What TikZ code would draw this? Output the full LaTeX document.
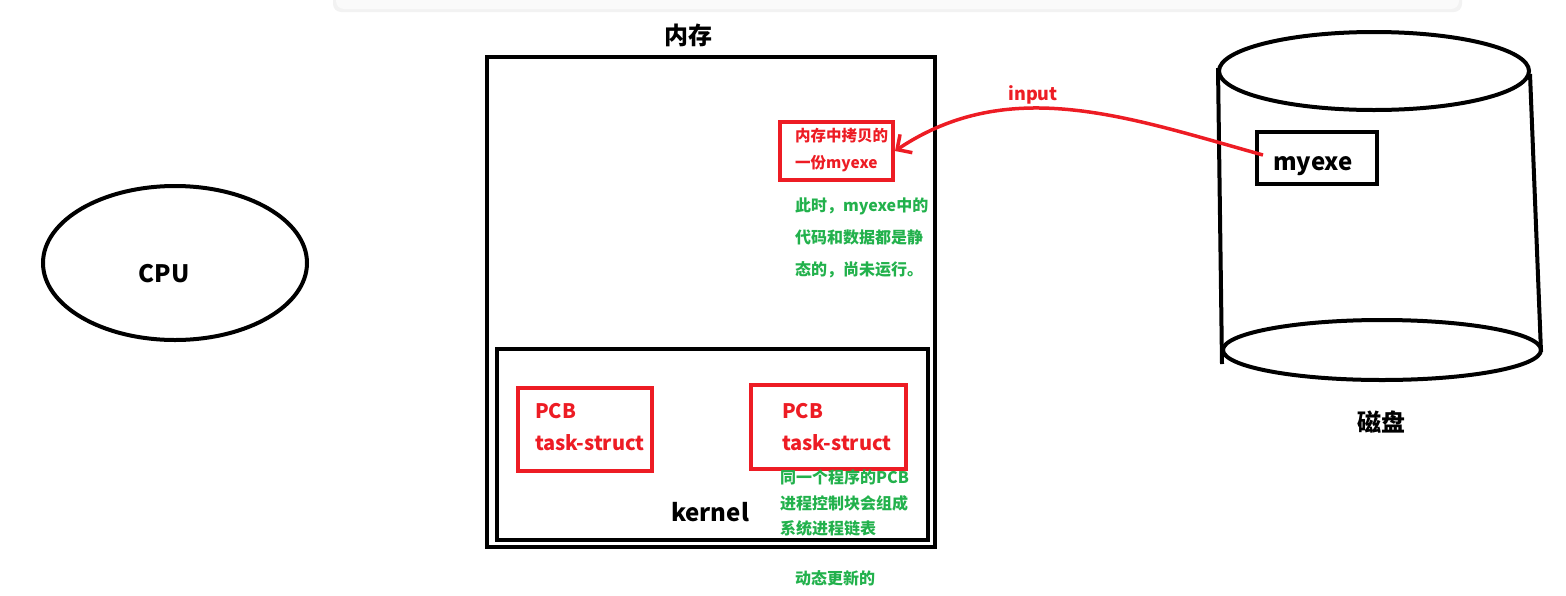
\documentclass[tikz,border=0pt]{standalone}
\usepackage{fontspec}
\setmainfont{Noto Sans CJK SC}
\usetikzlibrary{arrows.meta}
\definecolor{pred}{HTML}{ED1C24}
\definecolor{pgreen}{HTML}{22B14C}
\tikzset{
  thick box/.style={draw=black, line width=4pt, rectangle, inner sep=0pt},
  red box/.style={draw=pred, line width=4pt, rectangle, inner sep=0pt},
  txt/.style={inner sep=0pt, font=\bfseries},
  redtxt/.style={txt, text=pred, align=left, anchor=west},
  greentxt/.style={txt, text=pgreen, align=left, anchor=west},
}
\begin{document}
\begin{tikzpicture}[x=1pt, y=-1pt]
\useasboundingbox (0,0) rectangle (1566,595);
% top toolbar shadow
\fill[gray!10, rounded corners=8pt] (333,-20) rectangle (1462,12);
\fill[gray!4, rounded corners=8pt] (336,-20) rectangle (1459,9);
% CPU
\draw[line width=4pt] (175,263) ellipse [x radius=132, y radius=77];
\node[txt, font=\bfseries\fontsize{24}{24}\selectfont] (cpu) at (164,274) {CPU};
% memory
\node[txt, font=\bfseries\fontsize{24}{24}\selectfont] (memlabel) at (688,35) {内存};
\node[thick box, minimum width=448pt, minimum height=490pt] (mem) at (711,302) {};
\node[thick box, minimum width=431pt, minimum height=191pt] (kernelbox) at (712.5,444.5) {};
\node[txt, font=\bfseries\fontsize{24}{24}\selectfont] (kernel) at (710,512) {kernel};
\node[red box, minimum width=134pt, minimum height=83pt] (pcb1) at (585,429.5) {};
\node[red box, minimum width=155pt, minimum height=84pt] (pcb2) at (828.5,427) {};
\node[redtxt, font=\bfseries\fontsize{20}{32}\selectfont] (pcb1t) at (535,427) {PCB\\task-struct};
\node[redtxt, font=\bfseries\fontsize{20}{32}\selectfont] (pcb2t) at (782,427) {PCB\\task-struct};
\node[greentxt, font=\bfseries\fontsize{16}{25.5}\selectfont] (chain) at (780,503) {同一个程序的PCB\\进程控制块会组成\\系统进程链表};
\node[greentxt, font=\bfseries\fontsize{16}{16}\selectfont] (dyn) at (795,578) {动态更新的};
\node[red box, minimum width=113pt, minimum height=58pt] (copy) at (836.5,151) {};
\node[redtxt, font=\bfseries\fontsize{15.5}{27}\selectfont] (copyt) at (795,150.5) {内存中拷贝的\\一份myexe};
\node[greentxt, font=\bfseries\fontsize{16}{32}\selectfont] (static) at (795,238) {此时，myexe中的\\代码和数据都是静\\态的，尚未运行。};
% disk
\draw[line width=4pt] (1374,71) ellipse [x radius=155, y radius=39];
\draw[line width=4pt] (1382,350) ellipse [x radius=159, y radius=30];
\draw[line width=4pt] (1218,68) -- (1222,364);
\draw[line width=4pt] (1530,74) -- (1541,352);
\node[thick box, minimum width=120pt, minimum height=52pt] (exe) at (1317,158) {};
\node[txt, anchor=west, font=\bfseries\fontsize{24}{24}\selectfont] (exet) at (1273,166) {myexe};
\node[txt, font=\bfseries\fontsize{24}{24}\selectfont] (disk) at (1381,422) {磁盘};
% input arrow
\coordinate (src) at (1263,155);
\draw[pred, line width=3.5pt, -{Straight Barb[length=11pt, width=22pt]}]
  (src) .. controls (1130,118) and (1010,74) .. (copy.east);
\node[txt, text=pred, font=\bfseries\fontsize{18}{18}\selectfont] (input) at (1033,95) {input};
\end{tikzpicture}
\end{document}
